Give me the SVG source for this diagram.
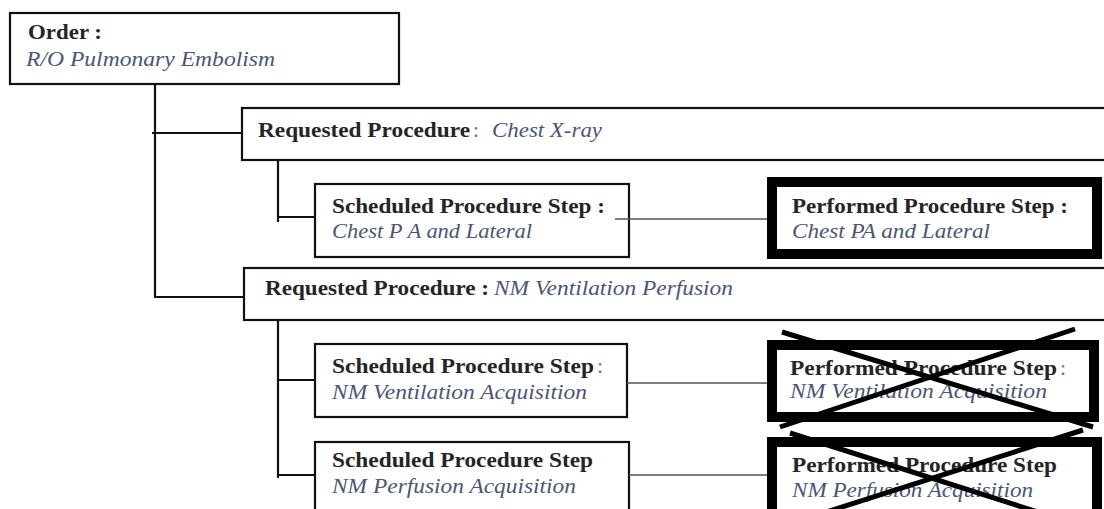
<svg xmlns="http://www.w3.org/2000/svg" width="1104" height="509" viewBox="0 0 1104 509">
  <style>
    .box { fill: #ffffff; stroke: #111111; stroke-width: 2.2; }
    .pps { fill: #ffffff; stroke: #000000; stroke-width: 10; }
    .tree { fill: none; stroke: #111111; stroke-width: 2.2; }
    .link { fill: none; stroke: #555555; stroke-width: 1.4; }
    .cross { fill: none; stroke: #000000; stroke-width: 5; stroke-linecap: butt; }
    .b { font-family: "Liberation Serif", "Times New Roman", serif; font-size: 22px; font-weight: bold; fill: #262424; }
    .i { font-family: "Liberation Serif", "Times New Roman", serif; font-size: 22px; font-style: italic; fill: #4a5677; }
    .c { font-family: "Liberation Serif", "Times New Roman", serif; font-size: 22px; fill: #6a7080; }
  </style>

  <g id="order">
    <rect class="box" x="10" y="13" width="389" height="71"/>
    <text class="b" x="28" y="39" textLength="74" lengthAdjust="spacingAndGlyphs">Order :</text>
    <text class="i" x="26" y="66" textLength="249" lengthAdjust="spacingAndGlyphs">R/O Pulmonary Embolism</text>
  </g>

  <g id="rp-chest">
    <rect class="box" x="242" y="108" width="880" height="52"/>
    <text class="b" x="258" y="137" textLength="212" lengthAdjust="spacingAndGlyphs">Requested Procedure</text>
    <text class="c" x="473" y="137">:</text>
    <text class="i" x="492" y="137" textLength="110" lengthAdjust="spacingAndGlyphs">Chest X-ray</text>
  </g>

  <g id="sps-chest">
    <rect class="box" x="315" y="184" width="314" height="73"/>
    <text class="b" x="332" y="213" textLength="273" lengthAdjust="spacingAndGlyphs">Scheduled Procedure Step :</text>
    <text class="i" x="332" y="238" textLength="200" lengthAdjust="spacingAndGlyphs">Chest P A and Lateral</text>
  </g>

  <g id="pps-chest">
    <rect class="pps" x="772" y="182" width="325" height="72"/>
    <text class="b" x="792" y="213" textLength="276" lengthAdjust="spacingAndGlyphs">Performed Procedure Step :</text>
    <text class="i" x="792" y="238" textLength="198" lengthAdjust="spacingAndGlyphs">Chest PA and Lateral</text>
  </g>

  <g id="rp-nm">
    <rect class="box" x="244" y="268" width="880" height="52"/>
    <text class="b" x="265" y="295" textLength="224" lengthAdjust="spacingAndGlyphs">Requested Procedure :</text>
    <text class="i" x="494" y="295" textLength="239" lengthAdjust="spacingAndGlyphs">NM Ventilation Perfusion</text>
  </g>

  <g id="sps-ventilation">
    <rect class="box" x="315" y="344" width="312" height="73"/>
    <text class="b" x="332" y="373" textLength="262" lengthAdjust="spacingAndGlyphs">Scheduled Procedure Step</text>
    <text class="c" x="597" y="373">:</text>
    <text class="i" x="332" y="399" textLength="255" lengthAdjust="spacingAndGlyphs">NM Ventilation Acquisition</text>
  </g>

  <g id="pps-ventilation">
    <rect class="pps" x="772" y="345" width="322" height="72"/>
    <text class="b" x="790" y="375" textLength="267" lengthAdjust="spacingAndGlyphs">Performed Procedure Step</text>
    <text class="c" x="1060" y="375">:</text>
    <text class="i" x="790" y="398" textLength="257" lengthAdjust="spacingAndGlyphs">NM Ventilation Acquisition</text>
    <path class="cross" d="M782 332 L1093 427 M1075 329 L780 427"/>
  </g>

  <g id="sps-perfusion">
    <rect class="box" x="315" y="442" width="314" height="90"/>
    <text class="b" x="332" y="467" textLength="261" lengthAdjust="spacingAndGlyphs">Scheduled Procedure Step</text>
    <text class="i" x="332" y="493" textLength="244" lengthAdjust="spacingAndGlyphs">NM Perfusion Acquisition</text>
  </g>

  <g id="pps-perfusion">
    <rect class="pps" x="772" y="442" width="325" height="90"/>
    <text class="b" x="792" y="472" textLength="265" lengthAdjust="spacingAndGlyphs">Performed Procedure Step</text>
    <text class="i" x="792" y="497" textLength="241" lengthAdjust="spacingAndGlyphs">NM Perfusion Acquisition</text>
    <path class="cross" d="M790 433 L1110 535 M1083 430 L770 530"/>
  </g>

  <!-- tree connectors and step links, drawn over the boxes -->
  <g id="connectors">
    <path class="tree" d="M155 84 V297 H244"/>
    <path class="tree" d="M152 133 H242"/>
    <path class="tree" d="M278 160 V222 M278 217 H315"/>
    <path class="tree" d="M278 320 V478 M278 380 H315 M278 475 H315"/>
    <path class="link" d="M615 219 H767"/>
    <path class="link" d="M627 383 H767"/>
    <path class="link" d="M629 475 H767"/>
  </g>
</svg>
